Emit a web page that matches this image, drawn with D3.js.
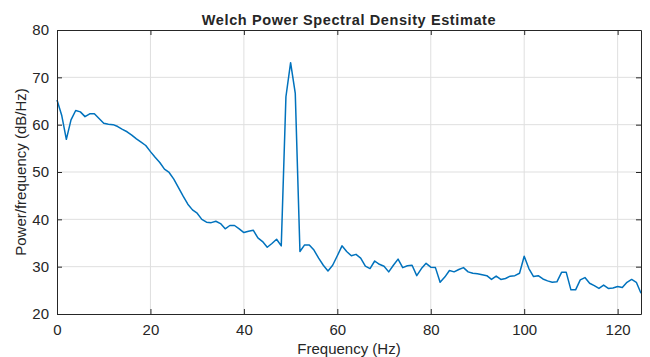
<!DOCTYPE html>
<html>
<head>
<meta charset="utf-8">
<script src="https://cdn.jsdelivr.net/npm/d3@7"></script>
<style>
  body { margin: 0; background: #fff; }
  svg text { font-family: "Liberation Sans", Arial, sans-serif; fill: #262626; }
</style>
</head>
<body>
<div id="chart"></div>
<script>
// Frequency bins 0..125 Hz (1 Hz step)
const freqStart = 0, freqStep = 1;
// PSD values (dB/Hz)
const psdValues = [
  65.2, 62.0, 56.9, 61.0, 63.0, 62.7, 61.7, 62.3, 62.3, 61.3,
  60.3, 60.1, 60.0, 59.6, 59.0, 58.5, 57.8, 57.0, 56.3, 55.6,
  54.3, 53.1, 52.0, 50.6, 49.9, 48.5, 46.7, 44.9, 43.2, 42.0,
  41.3, 40.0, 39.4, 39.3, 39.6, 39.1, 38.0, 38.7, 38.7, 38.0,
  37.2, 37.5, 37.7, 36.1, 35.3, 34.1, 34.9, 35.8, 34.4, 65.9,
  73.1, 66.6, 33.2, 34.6, 34.6, 33.5, 31.8, 30.3, 29.1, 30.3,
  32.3, 34.4, 33.2, 32.3, 32.6, 31.8, 30.1, 29.6, 31.2, 30.5,
  30.1, 28.9, 30.3, 31.6, 29.8, 30.2, 30.3, 28.1, 29.6, 30.7,
  29.9, 29.8, 26.7, 27.8, 29.2, 28.9, 29.4, 29.8, 28.9, 28.6,
  28.5, 28.3, 28.1, 27.3, 28.0, 27.3, 27.5, 28.0, 28.1, 28.6,
  32.2, 29.6, 27.9, 28.1, 27.4, 27.0, 26.7, 26.8, 28.8, 28.8,
  25.1, 25.1, 27.2, 27.7, 26.5, 26.0, 25.4, 26.1, 25.4, 25.5,
  25.8, 25.6, 26.7, 27.3, 26.7, 24.4
];
const xTicks = [0, 20, 40, 60, 80, 100, 120];
const yTicks = [20, 30, 40, 50, 60, 70, 80];

const data = psdValues.map((v, i) => ({ f: freqStart + i * freqStep, p: v }));

const margin = { top: 30, right: 9, bottom: 43, left: 57 };
const width = 650 - margin.left - margin.right;
const height = 357 - margin.top - margin.bottom;

const svg = d3.select('#chart')
    .append('svg')
    .attr('width', 650)
    .attr('height', 357)
    .append('g')
    .attr('transform', `translate(${margin.left},${margin.top})`);

const x = d3.scaleLinear().domain([0, 125]).range([0, width]);
const y = d3.scaleLinear().domain([20, 80]).range([height, 0]);

// Grid
svg.append('g')
    .selectAll('line.vgrid')
    .data(xTicks.filter(d => d > 0))
    .join('line')
    .attr('x1', d => x(d)).attr('x2', d => x(d))
    .attr('y1', 0).attr('y2', height)
    .attr('stroke', '#dfdfdf')
    .attr('stroke-width', 1);

svg.append('g')
    .selectAll('line.hgrid')
    .data(yTicks.filter(d => d > 20 && d < 80))
    .join('line')
    .attr('x1', 0).attr('x2', width)
    .attr('y1', d => y(d)).attr('y2', d => y(d))
    .attr('stroke', '#dfdfdf')
    .attr('stroke-width', 1);

// Line
const line = d3.line().x(d => x(d.f)).y(d => y(d.p));
svg.append('path')
    .datum(data)
    .attr('fill', 'none')
    .attr('stroke', '#0072BD')
    .attr('stroke-width', 1.5)
    .attr('stroke-linejoin', 'round')
    .attr('d', line);

// Axes (ticks inward, MATLAB box)
const styleAxis = g => {
    g.select('.domain').attr('stroke', '#262626');
    g.selectAll('.tick line').attr('stroke', '#262626');
    g.selectAll('.tick text').style('font-size', '15px').attr('fill', '#262626');
};

svg.append('g')
    .attr('transform', `translate(0,${height})`)
    .call(d3.axisBottom(x).tickValues(xTicks).tickSizeInner(-5).tickSizeOuter(0).tickPadding(10))
    .call(styleAxis);

svg.append('g')
    .call(d3.axisLeft(y).tickValues(yTicks).tickSizeInner(-5).tickSizeOuter(0).tickPadding(8))
    .call(styleAxis);

svg.append('g')
    .call(d3.axisTop(x).tickValues(xTicks).tickSizeInner(-5).tickSizeOuter(0).tickFormat(''))
    .call(styleAxis);

svg.append('g')
    .attr('transform', `translate(${width},0)`)
    .call(d3.axisRight(y).tickValues(yTicks).tickSizeInner(-5).tickSizeOuter(0).tickFormat(''))
    .call(styleAxis);

// Title and labels
svg.append('text')
    .attr('x', width / 2)
    .attr('y', -5)
    .attr('text-anchor', 'middle')
    .style('font-size', '14.5px')
    .style('font-weight', 'bold')
    .style('letter-spacing', '0.6px')
    .attr('fill', '#000')
    .text('Welch Power Spectral Density Estimate');

svg.append('text')
    .attr('x', width / 2)
    .attr('y', height + 40)
    .attr('text-anchor', 'middle')
    .style('font-size', '15px')
    .text('Frequency (Hz)');

svg.append('text')
    .attr('transform', `translate(-31,${height / 2}) rotate(-90)`)
    .attr('text-anchor', 'middle')
    .style('font-size', '15px')
    .text('Power/frequency (dB/Hz)');
</script>
</body>
</html>
